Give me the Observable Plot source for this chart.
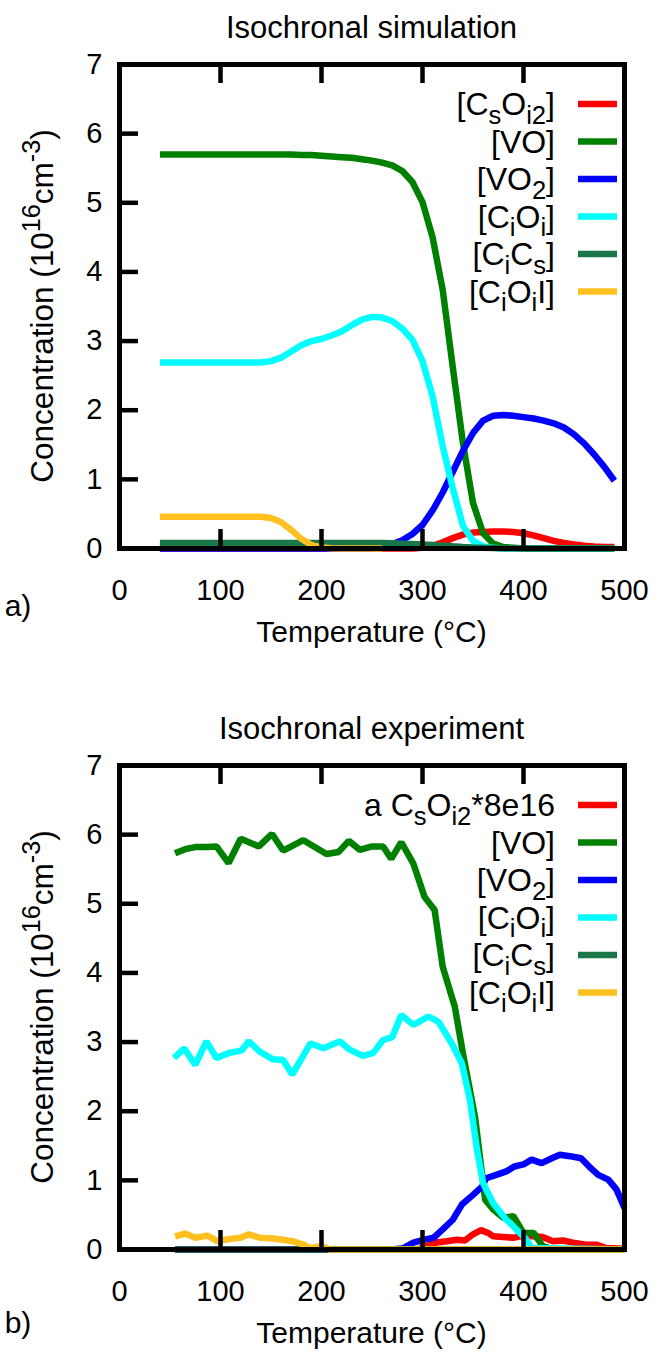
<!DOCTYPE html>
<html><head><meta charset="utf-8">
<script src="https://cdn.jsdelivr.net/npm/d3@7"></script>
<script src="https://cdn.jsdelivr.net/npm/@observablehq/plot@0.6"></script>
<style>
body{margin:0;background:#fff;}
#chart{width:659px;}
#chart svg{display:block;}
</style></head><body><div id="chart"></div>
<script>
// ---------- Tick values ----------
const xTickValues = [0, 100, 200, 300, 400, 500];
const xInnerTicks = [100, 200, 300, 400];
const yTickValues = [0, 1, 2, 3, 4, 5, 6, 7];
const yInnerTicks = [1, 2, 3, 4, 5, 6];

// ---------- Panel a: isochronal simulation ----------
const simT = [40,50,60,70,80,90,100,110,120,130,140,150,160,170,180,190,200,210,220,230,240,250,260,270,280,290,300,310,320,330,340,350,360,370,380,390,400,410,420,430,440,450,460,470,480,490];
const simCsOi2 = [0,0,0,0,0,0,0,0,0,0,0,0,0,0,0,0,0,0,0,0,0,0,0,0,0,0,0.01,0.04,0.09,0.15,0.20,0.23,0.24,0.245,0.245,0.24,0.22,0.19,0.15,0.11,0.08,0.06,0.04,0.03,0.02,0.02];
const simVO = [5.70,5.70,5.70,5.70,5.70,5.70,5.70,5.70,5.70,5.70,5.70,5.70,5.70,5.70,5.69,5.69,5.68,5.67,5.66,5.65,5.63,5.61,5.58,5.54,5.46,5.30,5.01,4.50,3.74,2.62,1.53,0.66,0.22,0.07,0.02,0.01,0,0,0,0,0,0,0,0,0,0];
const simVO2 = [0,0,0,0,0,0,0,0,0,0,0,0,0,0,0,0,0,0,0,0,0,0,0.02,0.06,0.12,0.21,0.34,0.55,0.81,1.11,1.41,1.67,1.85,1.92,1.93,1.92,1.90,1.88,1.85,1.81,1.75,1.65,1.52,1.36,1.18,0.98];
const simCiOi = [2.69,2.69,2.69,2.69,2.69,2.69,2.69,2.69,2.69,2.69,2.69,2.71,2.76,2.85,2.94,3.00,3.03,3.08,3.14,3.23,3.31,3.35,3.34,3.29,3.18,3.02,2.71,2.20,1.48,0.87,0.33,0.11,0.03,0.01,0,0,0,0,0,0,0,0,0,0,0,0];
const simCiCs = [0.08,0.08,0.08,0.08,0.08,0.08,0.08,0.08,0.08,0.08,0.08,0.08,0.08,0.08,0.08,0.08,0.08,0.08,0.08,0.08,0.08,0.08,0.078,0.075,0.07,0.064,0.057,0.049,0.04,0.031,0.023,0.016,0.011,0.007,0.004,0.002,0,0,0,0,0,0,0,0,0,0];
const simCiOiI_T = [40,50,60,70,80,90,100,110,120,130,140,150,160,170,180,190,200,210,220,230,240,250,260];
const simCiOiI = [0.46,0.46,0.46,0.46,0.46,0.46,0.46,0.46,0.46,0.46,0.46,0.44,0.38,0.27,0.14,0.05,0.015,0.005,0,0,0,0,0];

// ---------- Panel b: isochronal experiment ----------
const expCsOi2_T = [55,295,304,314,324,334,342,350,358,365,370,380,390,400,409,419,429,439,449,462,472,482,500];
const expCsOi2 = [0,0,0.05,0.10,0.12,0.14,0.13,0.22,0.28,0.24,0.19,0.18,0.17,0.20,0.19,0.18,0.12,0.13,0.10,0.07,0.07,0.02,0.01];
const expVO_T = [55,65,75,87,96,108,120,138,151,162,182,205,217,227,238,250,261,269,279,291,302,312,320,332,340,352,362,370,380,390,400,410,419,430,500];
const expVO = [5.73,5.79,5.82,5.82,5.83,5.59,5.94,5.83,6.01,5.77,5.92,5.72,5.75,5.91,5.78,5.83,5.83,5.65,5.89,5.58,5.10,4.91,4.09,3.51,2.84,1.92,0.72,0.58,0.46,0.48,0.24,0.24,0.05,0,0];
const expVO2_T = [55,270,281,291,301,311,320,330,339,350,359,363,373,383,391,400,408,418,428,436,446,457,465,474,484,492,500];
const expVO2 = [0,0,0.02,0.10,0.14,0.17,0.29,0.43,0.65,0.79,0.91,1.03,1.08,1.13,1.20,1.23,1.30,1.25,1.32,1.37,1.35,1.32,1.20,1.08,1.01,0.87,0.60];
const expCiOi_T = [54,64,75,86,96,108,121,128,139,152,162,171,189,202,218,228,241,251,261,270,279,291,306,316,329,339,347,354,360,370,383,393,403,408,500];
const expCiOi = [2.77,2.91,2.67,3.01,2.77,2.84,2.88,3.01,2.86,2.75,2.74,2.53,2.98,2.91,3.01,2.89,2.80,2.84,3.03,3.07,3.39,3.25,3.37,3.29,2.98,2.69,2.16,1.44,0.96,0.67,0.43,0.29,0.14,0.02,0];
const expCiCs_T = [55,100,150,200,250,300,350,400,450,500];
const expCiCs = [0,0,0,0,0,0,0,0,0,0];
const expCiOiI_T = [55,65,75,87,97,108,120,128,139,152,162,171,182,189,200,208,300,400,500];
const expCiOiI = [0.19,0.23,0.17,0.20,0.12,0.15,0.17,0.22,0.17,0.16,0.14,0.12,0.07,0.02,0.05,0,0,0,0];

// ---------- Series names / colours ----------
const seriesColors = ["#ff0000", "#008000", "#0000ff", "#00ffff", "#1a774a", "#ffc020"];
const legendA = [
  [["[C",""],["s","sub"],["O",""],["i2","sub"],["]",""]],
  [["[VO]",""]],
  [["[VO",""],["2","sub"],["]",""]],
  [["[C",""],["i","sub"],["O",""],["i","sub"],["]",""]],
  [["[C",""],["i","sub"],["C",""],["s","sub"],["]",""]],
  [["[C",""],["i","sub"],["O",""],["i","sub"],["I]",""]]
];
const legendB = [[["a C",""],["s","sub"],["O",""],["i2","sub"],["*8e16",""]]].concat(legendA.slice(1));
const yLabelSegs = [["Concentration (10",""],["16","sup"],["cm",""],["-3","sup"],[")",""]];

const FONT = "'Liberation Sans', Arial, Helvetica, sans-serif";
const FS = 29;
const X_DOMAIN = [0, 500], Y_DOMAIN = [0, 7];

function rich(textSel, segs, fs) {
  let shift = 0;
  segs.forEach(([s, k]) => {
    const target = k === "sub" ? fs * 0.28 : k === "sup" ? -fs * 0.42 : 0;
    textSel.append("tspan")
      .attr("dy", target - shift)
      .attr("font-size", k ? fs * 0.8 : fs)
      .text(s);
    shift = target;
  });
}

function panel({title, letter, letterDy, series, legend, height, marginBottom}) {
  const marginTop = 64, marginLeft = 119, marginRight = 35;
  const frameH = height - marginTop - marginBottom;
  const frameW = 659 - marginLeft - marginRight;
  const tickPx = 19;
  const tickY = (Y_DOMAIN[1] - Y_DOMAIN[0]) * tickPx / frameH;  // tick length in y units
  const tickX = (X_DOMAIN[1] - X_DOMAIN[0]) * tickPx / frameW;  // tick length in x units
  const lines = series.map(([T, V], i) =>
    Plot.line(T, {x: T, y: V, stroke: seriesColors[i], strokeWidth: 6.5,
      strokeLinejoin: "miter", strokeLinecap: "butt"}));

  const extras = (index, scales, values, dims) => {
    const g = d3.create("svg:g").attr("font-family", FONT).attr("fill", "black");
    const left = dims.marginLeft, right = dims.width - dims.marginRight;
    const top = dims.marginTop, bottom = dims.height - dims.marginBottom;
    const cx = (left + right) / 2, cy = (top + bottom) / 2;
    g.append("text").attr("x", cx).attr("y", top - 26).attr("text-anchor", "middle")
      .attr("font-size", 31).text(title);
    g.append("text").attr("x", cx).attr("y", bottom + 94).attr("text-anchor", "middle")
      .attr("font-size", 30).text("Temperature (°C)");
    g.append("text").attr("x", 18).attr("y", bottom + letterDy).attr("font-size", 30).text(letter);
    const yl = g.append("text").attr("transform", `translate(${53},${cy}) rotate(-90)`)
      .attr("text-anchor", "middle").attr("font-size", 31.5);
    rich(yl, yLabelSegs, 31.5);
    legend.forEach((segs, i) => {
      const y = top + 40 + i * 37.5;
      g.append("line").attr("x1", right - 46).attr("x2", right - 7)
        .attr("y1", y).attr("y2", y).attr("stroke", seriesColors[i]).attr("stroke-width", 6.5);
      const t = g.append("text").attr("x", right - 69).attr("y", y + 11)
        .attr("text-anchor", "end").attr("font-size", 32);
      rich(t, segs, 32);
    });
    return g.node();
  };

  return Plot.plot({
    width: 659, height, marginTop, marginBottom, marginLeft, marginRight,
    style: {fontFamily: FONT, background: "white", overflow: "visible", color: "black"},
    x: {domain: X_DOMAIN, axis: null},
    y: {domain: Y_DOMAIN, axis: null},
    marks: [
      ...lines,
      Plot.frame({stroke: "black", strokeWidth: 5}),
      // inward ticks (bottom, top mirror, left)
      Plot.ruleX(xInnerTicks, {x: d => d, y1: Y_DOMAIN[0], y2: Y_DOMAIN[0] + tickY, stroke: "black", strokeWidth: 4.5}),
      Plot.ruleX(xInnerTicks, {x: d => d, y1: Y_DOMAIN[1] - tickY, y2: Y_DOMAIN[1], stroke: "black", strokeWidth: 4.5}),
      Plot.ruleY(yInnerTicks, {y: d => d, x1: X_DOMAIN[0], x2: X_DOMAIN[0] + tickX, stroke: "black", strokeWidth: 4.5}),
      Plot.axisX(xTickValues, {anchor: "bottom", tickSize: 0, tickPadding: 31, label: null, fontSize: FS, fill: "black", tickFormat: d3.format("d")}),
      Plot.axisY(yTickValues, {anchor: "left", tickSize: 0, tickPadding: 17, label: null, fontSize: FS, fill: "black", tickFormat: d3.format("d")}),
      extras
    ]
  });
}

const chart = document.getElementById("chart");
chart.append(panel({
  title: "Isochronal simulation", letter: "a)", letterDy: 68, legend: legendA,
  height: 701, marginBottom: 153,
  series: [[simT, simCsOi2], [simT, simVO], [simT, simVO2], [simT, simCiOi], [simT, simCiCs], [simCiOiI_T, simCiOiI]]
}));
chart.append(panel({
  title: "Isochronal experiment", letter: "b)", letterDy: 84, legend: legendB,
  height: 654, marginBottom: 106,
  series: [[expCsOi2_T, expCsOi2], [expVO_T, expVO], [expVO2_T, expVO2], [expCiOi_T, expCiOi], [expCiCs_T, expCiCs], [expCiOiI_T, expCiOiI]]
}));
</script></body></html>
